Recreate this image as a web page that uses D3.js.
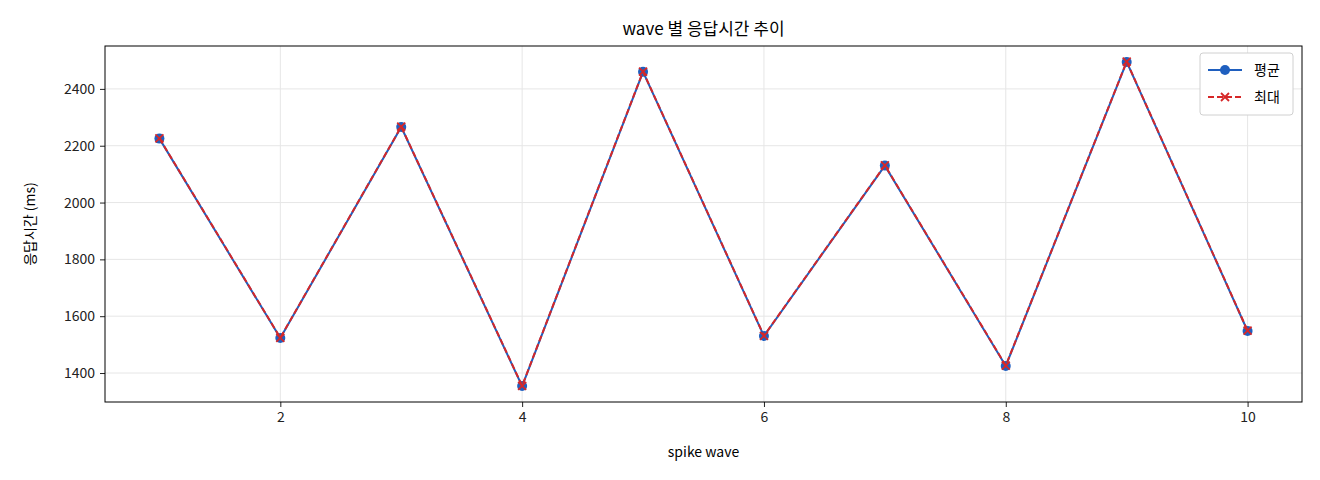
<!DOCTYPE html>
<html><head><meta charset="utf-8">
<script src="https://cdn.jsdelivr.net/npm/d3@7"></script>
<style>body{margin:0;background:#fff}text{font-family:"Noto Sans CJK KR","DejaVu Sans",sans-serif}</style>
</head><body><div id="chart"></div>
<script>
// data
const waves = [1,2,3,4,5,6,7,8,9,10]
const avgMs = [2225,1523,2266,1354,2460,1530,2130,1425,2495,1548]
const maxMs = [2226,1524,2267,1355,2461,1531,2131,1426,2496,1549]
const xTicks = [2,4,6,8,10]
const yTicks = [1400,1600,1800,2000,2200,2400]

const W = 1320, H = 480
const margin = {top: 46, right: 18, bottom: 78, left: 105}
const width = W - margin.left - margin.right
const height = H - margin.top - margin.bottom

const svg = d3.select("#chart").append("svg").attr("width", W).attr("height", H)
const g = svg.append("g").attr("transform", "translate(" + margin.left + "," + margin.top + ")")

const x = d3.scaleLinear().domain([0.55, 10.45]).range([0, width])
const y = d3.scaleLinear().domain([1298, 2551]).range([height, 0])

// grid
g.selectAll(".gx").data(xTicks).enter().append("line")
  .attr("x1", d => x(d)).attr("x2", d => x(d)).attr("y1", 0).attr("y2", height)
  .attr("stroke", "#e6e6e6").attr("stroke-width", 1)
g.selectAll(".gy").data(yTicks).enter().append("line")
  .attr("y1", d => y(d)).attr("y2", d => y(d)).attr("x1", 0).attr("x2", width)
  .attr("stroke", "#e6e6e6").attr("stroke-width", 1)

// axes
const ax = g.append("g").attr("transform", "translate(0," + height + ")")
  .call(d3.axisBottom(x).tickValues(xTicks).tickSize(5).tickPadding(5))
const ay = g.append("g").call(d3.axisLeft(y).tickValues(yTicks).tickSize(5).tickPadding(5).tickFormat(d3.format("d")))
;[ax, ay].forEach(a => {
  a.select(".domain").remove()
  a.selectAll("text").attr("font-size", 14).attr("fill", "#222")
  a.selectAll("line").attr("stroke", "#222")
})
g.append("rect").attr("width", width).attr("height", height)
  .attr("fill", "none").attr("stroke", "#000").attr("stroke-width", 1)

// lines
const line = d3.line().x((d, i) => x(waves[i])).y(d => y(d))
g.append("path").datum(avgMs).attr("d", line).attr("fill", "none")
  .attr("stroke", "#1f5fbf").attr("stroke-width", 2)
g.selectAll(".dot").data(avgMs).enter().append("circle")
  .attr("cx", (d, i) => x(waves[i])).attr("cy", d => y(d)).attr("r", 5).attr("fill", "#1f5fbf")
g.append("path").datum(maxMs).attr("d", line).attr("fill", "none")
  .attr("stroke", "#d62728").attr("stroke-width", 2).attr("stroke-dasharray", "6,3")
g.selectAll(".xm").data(maxMs).enter().append("path")
  .attr("transform", (d, i) => "translate(" + x(waves[i]) + "," + y(d) + ")")
  .attr("d", "M-4,-4L4,4M-4,4L4,-4").attr("stroke", "#d62728").attr("stroke-width", 1.8)

// labels
svg.append("text").attr("x", margin.left + width / 2).attr("y", 35).attr("text-anchor", "middle")
  .attr("font-size", 17).text("wave 별 응답시간 추이")
svg.append("text").attr("x", margin.left + width / 2).attr("y", margin.top + height + 55)
  .attr("text-anchor", "middle").attr("font-size", 14).text("spike wave")
svg.append("text").attr("transform", "translate(35," + (margin.top + height / 2) + ") rotate(-90)")
  .attr("text-anchor", "middle").attr("font-size", 14).text("응답시간 (ms)")

// legend
const lg = svg.append("g").attr("transform", "translate(1200,53)")
lg.append("rect").attr("width", 93).attr("height", 62).attr("rx", 3)
  .attr("fill", "#fff").attr("stroke", "#d0d0d0")
lg.append("line").attr("x1", 8).attr("x2", 42).attr("y1", 17).attr("y2", 17).attr("stroke", "#1f5fbf").attr("stroke-width", 2)
lg.append("circle").attr("cx", 25).attr("cy", 17).attr("r", 5).attr("fill", "#1f5fbf")
lg.append("text").attr("x", 54).attr("y", 22).attr("font-size", 14).text("평균")
lg.append("line").attr("x1", 8).attr("x2", 42).attr("y1", 44).attr("y2", 44).attr("stroke", "#d62728").attr("stroke-width", 2).attr("stroke-dasharray", "6,3")
lg.append("path").attr("transform", "translate(25,44)").attr("d", "M-4,-4L4,4M-4,4L4,-4").attr("stroke", "#d62728").attr("stroke-width", 1.8)
lg.append("text").attr("x", 54).attr("y", 49).attr("font-size", 14).text("최대")
</script></body></html>
